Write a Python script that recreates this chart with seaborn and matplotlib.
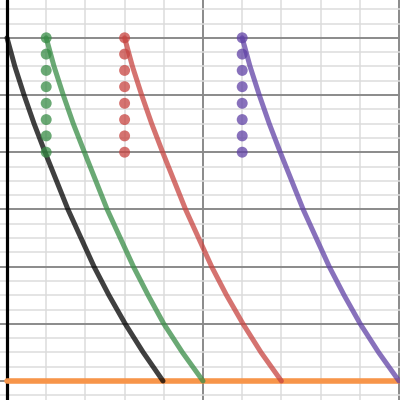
import numpy as np
import pandas as pd
import seaborn as sns
import matplotlib.pyplot as plt
from matplotlib.ticker import MultipleLocator

# ==========================
# DATA
# ==========================
curve_y = [12, 11, 10, 9, 8, 6, 4, 3, 2, 1, 0]
black_x = [0.0, 0.040, 0.087, 0.138, 0.194, 0.311, 0.444, 0.520, 0.603, 0.695, 0.796]
green_x = [0.2, 0.240, 0.287, 0.338, 0.395, 0.511, 0.645, 0.720, 0.800, 0.895, 1.0]
red_x = [0.6, 0.640, 0.687, 0.738, 0.794, 0.911, 1.044, 1.120, 1.204, 1.296, 1.4]
purple_x = [1.2, 1.240, 1.287, 1.338, 1.394, 1.511, 1.644, 1.720, 1.802, 1.896, 2.0]

dot_y = [12.0, 11.43, 10.86, 10.29, 9.71, 9.14, 8.57, 8.0]
green_dot_x = 0.2
red_dot_x = 0.6
purple_dot_x = 1.2

orange_x = [0.0, 2.1]
orange_y = [0, 0]

colors = {
    "black": "#000000",
    "green": "#388c46",
    "red": "#c74440",
    "purple": "#6042a6",
}

n = len(curve_y)
curves = pd.DataFrame({
    "x": black_x + green_x + red_x + purple_x,
    "y": curve_y * 4,
    "series": ["black"] * n + ["green"] * n + ["red"] * n + ["purple"] * n,
})

m = len(dot_y)
dots = pd.DataFrame({
    "x": [green_dot_x] * m + [red_dot_x] * m + [purple_dot_x] * m,
    "y": dot_y * 3,
    "series": ["green"] * m + ["red"] * m + ["purple"] * m,
})

orange = pd.DataFrame({"x": orange_x, "y": orange_y})

# ==========================
# PLOT
# ==========================
sns.set_style("white")
fig = plt.figure(figsize=(4, 4), dpi=100)
ax = fig.add_axes([0, 0, 1, 1])

ax.set_xlim(-7 / 196, 393 / 196)
ax.set_ylim(-19 / 28.6, 381 / 28.6)

ax.xaxis.set_major_locator(MultipleLocator(1))
ax.xaxis.set_minor_locator(MultipleLocator(0.2))
ax.yaxis.set_major_locator(MultipleLocator(2))
ax.yaxis.set_minor_locator(MultipleLocator(0.5))
ax.grid(which="minor", color="#dcdcdc", lw=1.1)
ax.grid(which="major", color="#8a8a8a", lw=1.4)
ax.set_axisbelow(True)
ax.tick_params(which="both", length=0, labelbottom=False, labelleft=False)
for s in ax.spines.values():
    s.set_visible(False)

ax.axvline(0, color="black", lw=2.3, zorder=2)
ax.axhline(0, color="#8a8a8a", lw=1.4, zorder=2)

sns.lineplot(data=orange, x="x", y="y", color="#f7954a", lw=4.0,
             solid_capstyle="round", ax=ax, zorder=3)

sns.lineplot(data=curves, x="x", y="y", hue="series", palette=colors,
             lw=3.6, alpha=0.75, estimator=None, sort=False,
             solid_capstyle="round", solid_joinstyle="round",
             legend=False, ax=ax, zorder=4)

sns.scatterplot(data=dots, x="x", y="y", hue="series", palette=colors,
                s=62, alpha=0.75, linewidth=0, legend=False, ax=ax, zorder=5)

ax.set_xlabel("")
ax.set_ylabel("")
fig.savefig("out.png", dpi=100)
